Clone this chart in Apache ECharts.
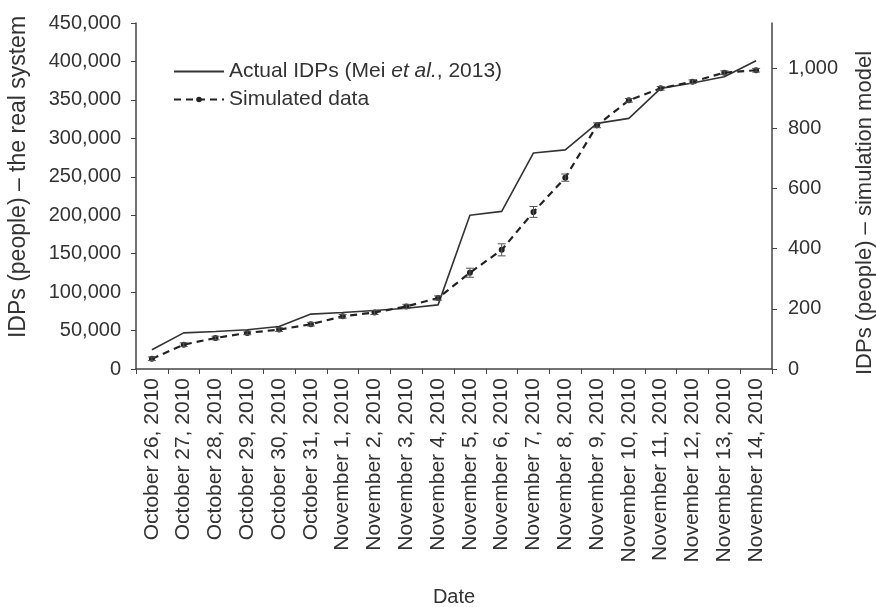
<!DOCTYPE html>
<html>
<head>
<meta charset="utf-8">
<script src="https://cdn.jsdelivr.net/npm/echarts@6/dist/echarts.min.js"></script>
<style>
  html, body { margin: 0; padding: 0; background: #fff; }
  #chart { width: 876px; height: 607px; }
</style>
</head>
<body>
<div id="chart"></div>
<script>
  const dates = [
    'October 26, 2010', 'October 27, 2010', 'October 28, 2010', 'October 29, 2010',
    'October 30, 2010', 'October 31, 2010', 'November 1, 2010', 'November 2, 2010',
    'November 3, 2010', 'November 4, 2010', 'November 5, 2010', 'November 6, 2010',
    'November 7, 2010', 'November 8, 2010', 'November 9, 2010', 'November 10, 2010',
    'November 11, 2010', 'November 12, 2010', 'November 13, 2010', 'November 14, 2010'
  ];
  // real system, left axis
  const actualIDPs = [25000, 47000, 48800, 51000, 55300, 71400, 73400, 76000, 79000, 83400,
    200000, 205000, 281000, 285000, 319500, 326000, 365000, 372000, 380000, 401000];
  // simulation model, right axis
  const simulated = [34, 81, 103, 120, 131, 149, 175, 188, 208, 236,
    320, 396, 522, 636, 810, 893, 933, 955, 985, 993];
  const simError = [6, 6, 6, 6, 6, 6, 6, 7, 7, 7, 15, 20, 18, 12, 8, 6, 6, 6, 6, 6];
  const leftTicks = { min: 0, max: 450000, step: 50000 };
  const rightTicks = { min: 0, max: 1150, step: 200 };

  const actualName = 'Actual IDPs (Mei et al., 2013)';
  const simName = 'Simulated data';

  const axisColor = '#444';
  const textColor = '#333';
  const font = 'Liberation Sans, Arial, sans-serif';

  let errData = simulated.map(function (v, i) {
    return [i, v - simError[i], v + simError[i]];
  });

  let chart = echarts.init(document.getElementById('chart'));

  let option = {
    animation: false,
    textStyle: { fontFamily: font, color: textColor },
    legend: {
      orient: 'vertical',
      left: 168,
      top: 56,
      itemWidth: 50,
      itemHeight: 7,
      itemGap: 7,
      data: [
        { name: actualName, itemStyle: { opacity: 0 } },
        { name: simName }
      ],
      formatter: function (name) {
        return name.replace('et al.', '{i|et al.}');
      },
      textStyle: {
        fontSize: 21,
        color: textColor,
        fontFamily: font,
        rich: {
          i: { fontStyle: 'italic', fontSize: 21, color: textColor, fontFamily: font }
        }
      }
    },
    grid: {
      left: 136,
      right: 104,
      top: 23,
      bottom: 238,
      containLabel: false,
      outerBoundsMode: 'none'
    },
    xAxis: {
      type: 'category',
      data: dates,
      boundaryGap: true,
      name: 'Date',
      nameLocation: 'middle',
      nameGap: 218,
      nameTextStyle: { fontSize: 20, color: textColor },
      axisLine: { lineStyle: { color: axisColor, width: 1.5 } },
      axisTick: { show: true, length: 5, lineStyle: { color: axisColor } },
      axisLabel: {
        rotate: 90,
        interval: 0,
        margin: 9,
        fontSize: 21,
        color: textColor
      },
      splitLine: { show: false }
    },
    yAxis: [
      {
        type: 'value',
        min: leftTicks.min,
        max: leftTicks.max,
        interval: leftTicks.step,
        name: 'IDPs (people) \u2013 the real system',
        nameLocation: 'middle',
        nameGap: 106,
        nameRotate: 90,
        nameTextStyle: { fontSize: 23, color: textColor, padding: [0, 0, 0, 38] },
        axisLine: { show: true, lineStyle: { color: axisColor, width: 1.5 } },
        axisTick: { show: true, length: 5, lineStyle: { color: axisColor } },
        axisLabel: {
          fontSize: 20,
          color: textColor,
          margin: 15,
          formatter: function (v) { return v.toLocaleString('en-US'); }
        },
        splitLine: { show: false }
      },
      {
        type: 'value',
        position: 'right',
        min: rightTicks.min,
        max: rightTicks.max,
        interval: rightTicks.step,
        name: 'IDPs (people) \u2013 simulation model',
        nameLocation: 'middle',
        nameGap: 82,
        nameRotate: 90,
        nameTextStyle: { fontSize: 22, color: textColor, padding: [0, 34, 0, 0] },
        axisLine: { show: true, lineStyle: { color: axisColor, width: 1.5 } },
        axisTick: { show: true, length: 5, lineStyle: { color: axisColor } },
        axisLabel: {
          fontSize: 20,
          color: textColor,
          margin: 16,
          showMaxLabel: false,
          formatter: function (v) {
            return v % rightTicks.step === 0 ? v.toLocaleString('en-US') : '';
          }
        },
        splitLine: { show: false }
      }
    ],
    series: [
      {
        name: actualName,
        type: 'line',
        yAxisIndex: 0,
        data: actualIDPs,
        symbol: 'none',
        lineStyle: { color: '#333', width: 1.6 },
        itemStyle: { color: '#333' }
      },
      {
        name: simName,
        type: 'line',
        yAxisIndex: 1,
        data: simulated,
        symbol: 'circle',
        symbolSize: 6,
        lineStyle: { color: '#222', width: 2.2, type: [7, 5] },
        itemStyle: { color: '#222' },
        z: 3
      },
      {
        name: 'error',
        type: 'custom',
        yAxisIndex: 1,
        data: errData,
        z: 4,
        renderItem: function (params, api) {
          let x = api.value(0);
          let lo = api.coord([x, api.value(1)]);
          let hi = api.coord([x, api.value(2)]);
          let w = 4;
          let style = { stroke: '#555', lineWidth: 1 };
          return {
            type: 'group',
            children: [
              { type: 'line', shape: { x1: lo[0], y1: lo[1], x2: hi[0], y2: hi[1] }, style: style },
              { type: 'line', shape: { x1: lo[0] - w, y1: lo[1], x2: lo[0] + w, y2: lo[1] }, style: style },
              { type: 'line', shape: { x1: hi[0] - w, y1: hi[1], x2: hi[0] + w, y2: hi[1] }, style: style }
            ]
          };
        }
      }
    ]
  };

  chart.setOption(option);
</script>
</body>
</html>
